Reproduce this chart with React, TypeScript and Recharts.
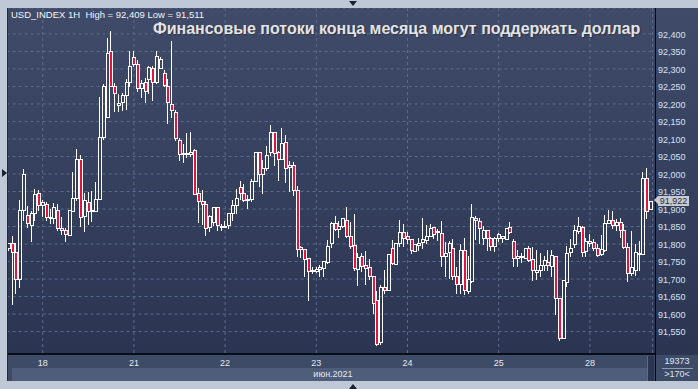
import React from "react";
import { ComposedChart, Bar, XAxis, YAxis, CartesianGrid } from "recharts";

// USD_INDEX 1H candles, prices in thousandths (91922 = 91,922)
const opens = [
  91790, 91804, 91777, 91699, 91896, 91883, 91855, 91889, 91946, 91912,
  91915, 91878, 91875, 91898, 91847, 91841, 91825, 91894, 91931, 92044,
  91881, 91920, 91895, 91895, 91929, 92107, 92164, 92352, 92250, 92196,
  92207, 92226, 92264, 92334, 92314, 92245, 92263, 92271, 92302, 92262,
  92304, 92289, 92251, 92200, 92177, 92098, 92060, 92060, 92058, 92069,
  91946, 91923, 91915, 91849, 91864, 91906, 91851, 91850, 91853, 91889,
  91912, 91963, 91946, 91929, 91929, 91979, 92063, 92001, 92017, 92063,
  92119, 92062, 92043, 92091, 92019, 92027, 91953, 91792, 91786, 91760,
  91727, 91723, 91729, 91732, 91749, 91804, 91859, 91843, 91851, 91870,
  91824, 91796, 91729, 91765, 91739, 91735, 91710, 91639, 91519, 91678,
  91670, 91789, 91744, 91802, 91835, 91822, 91813, 91780, 91798, 91806,
  91811, 91823, 91849, 91837, 91832, 91765, 91777, 91789, 91710, 91685,
  91784, 91666, 91694, 91875, 91867, 91818, 91839, 91816, 91794, 91818,
  91818, 91815, 91849, 91810, 91761, 91765, 91761, 91789, 91756, 91720,
  91725, 91739, 91750, 91737, 91765, 91647, 91533, 91691, 91777, 91799,
  91837, 91849, 91780, 91808, 91805, 91789, 91772, 91782, 91861, 91870,
  91853, 91863, 91841, 91792, 91716, 91727, 91771, 91771, 91989, 91900,
];
const highs = [
  91804, 91822, 91804, 91927, 92015, 91908, 91894, 91957, 91953, 91925,
  91919, 91901, 91918, 91915, 91876, 91845, 91898, 92006, 92072, 92055,
  91946, 91948, 91951, 91976, 92220, 92258, 92388, 92409, 92260, 92229,
  92231, 92272, 92352, 92350, 92326, 92269, 92274, 92307, 92307, 92350,
  92333, 92297, 92271, 92380, 92183, 92103, 92086, 92117, 92121, 92072,
  91960, 91953, 91924, 91884, 91906, 91906, 91856, 91867, 91890, 91927,
  91957, 91981, 91972, 91941, 91987, 92063, 92063, 92041, 92079, 92141,
  92119, 92067, 92131, 92112, 92036, 92033, 91967, 91794, 91786, 91760,
  91735, 91735, 91739, 91751, 91811, 91864, 91879, 91865, 91875, 91905,
  91862, 91887, 91773, 91775, 91780, 91756, 91710, 91666, 91682, 91725,
  91772, 91811, 91802, 91870, 91856, 91833, 91815, 91799, 91818, 91875,
  91853, 91856, 91849, 91843, 91867, 91805, 91808, 91813, 91735, 91799,
  91818, 91767, 91913, 91881, 91875, 91851, 91839, 91821, 91821, 91832,
  91824, 91845, 91862, 91815, 91784, 91775, 91789, 91794, 91792, 91784,
  91775, 91765, 91784, 91784, 91765, 91647, 91696, 91794, 91813, 91853,
  91878, 91851, 91818, 91830, 91813, 91799, 91826, 91884, 91898, 91894,
  91872, 91875, 91856, 91804, 91837, 91799, 91808, 92005, 92017, 91924,
];
const lows = [
  91784, 91630, 91661, 91677, 91870, 91848, 91808, 91868, 91896, 91879,
  91870, 91861, 91861, 91841, 91828, 91808, 91825, 91894, 91927, 91851,
  91837, 91858, 91865, 91895, 91929, 92100, 92164, 92250, 92179, 92179,
  92183, 92185, 92250, 92307, 92238, 92221, 92207, 92231, 92212, 92260,
  92302, 92250, 92146, 92164, 92098, 92041, 92033, 92049, 92050, 91943,
  91864, 91858, 91827, 91837, 91853, 91839, 91839, 91849, 91846, 91870,
  91889, 91929, 91922, 91903, 91922, 91979, 91965, 91946, 92012, 92055,
  92027, 91982, 92043, 91976, 91951, 91939, 91767, 91764, 91708, 91640,
  91716, 91719, 91708, 91710, 91747, 91792, 91841, 91821, 91849, 91821,
  91789, 91725, 91683, 91723, 91687, 91699, 91604, 91511, 91514, 91659,
  91670, 91742, 91744, 91794, 91794, 91802, 91775, 91780, 91782, 91789,
  91804, 91822, 91818, 91811, 91737, 91710, 91704, 91701, 91659, 91661,
  91656, 91661, 91691, 91813, 91802, 91801, 91782, 91784, 91780, 91808,
  91805, 91815, 91832, 91737, 91737, 91748, 91759, 91751, 91697, 91701,
  91708, 91727, 91727, 91708, 91599, 91526, 91531, 91680, 91767, 91792,
  91832, 91767, 91767, 91794, 91782, 91767, 91770, 91780, 91859, 91846,
  91841, 91821, 91789, 91694, 91713, 91713, 91727, 91771, 91875, 91900,
];
const closes = [
  91802, 91777, 91699, 91896, 92000, 91861, 91889, 91943, 91912, 91921,
  91878, 91877, 91905, 91845, 91841, 91829, 91898, 91932, 92044, 91878,
  91925, 91895, 91896, 91929, 92107, 92252, 92345, 92252, 92231, 92203,
  92226, 92262, 92307, 92314, 92245, 92261, 92236, 92305, 92262, 92338,
  92328, 92253, 92207, 92183, 92103, 92058, 92059, 92061, 92064, 91943,
  91922, 91915, 91846, 91881, 91906, 91853, 91849, 91852, 91889, 91912,
  91932, 91946, 91927, 91928, 91981, 92063, 92001, 92017, 92055, 92120,
  92060, 92043, 92089, 92017, 92027, 91953, 91786, 91786, 91758, 91723,
  91723, 91729, 91734, 91751, 91794, 91859, 91844, 91851, 91875, 91822,
  91794, 91732, 91763, 91737, 91732, 91710, 91633, 91514, 91678, 91670,
  91772, 91747, 91802, 91835, 91818, 91813, 91782, 91799, 91802, 91815,
  91823, 91847, 91830, 91834, 91765, 91775, 91804, 91708, 91685, 91784,
  91670, 91699, 91878, 91868, 91846, 91839, 91818, 91794, 91816, 91829,
  91824, 91845, 91835, 91761, 91767, 91763, 91789, 91754, 91725, 91727,
  91739, 91753, 91739, 91770, 91647, 91533, 91696, 91775, 91789, 91839,
  91851, 91777, 91808, 91802, 91789, 91770, 91787, 91861, 91870, 91853,
  91863, 91839, 91792, 91718, 91735, 91778, 91775, 91989, 91894, 91922,
];

const priceTicks = [
  91550, 91600, 91650, 91700, 91750, 91800, 91850, 91900, 91950,
  92000, 92050, 92100, 92150, 92200, 92250, 92300, 92350, 92400,
];
const dayTicks = [9, 33, 57, 81, 105, 129, 153];
const dayLabels = ["18", "21", "22", "23", "24", "25", "28"];

const data = opens.map((open, i) => ({
  i,
  open,
  high: highs[i],
  low: lows[i],
  close: closes[i],
  range: [lows[i], highs[i]],
}));

const RED = "#e3153c";
const FONT = "'Liberation Sans', Arial, sans-serif";
const FRAME = "#bec8d6";

function fmtPrice(v: number) {
  return (v / 1000).toFixed(3).replace(".", ",");
}

function Candle(props: any) {
  const { x, y, width, height, payload } = props;
  if (x == null || !payload) return null;
  const { open, close, high, low } = payload;
  const cx = Math.floor(x + width / 2);
  const top = Math.min(y, y + height);
  const h = Math.abs(height);
  const toY = (v: number) => top + ((high - v) / (high - low)) * h;
  const yH = Math.round(top);
  const yL = Math.round(top + h);
  const bTop = Math.round(toY(Math.max(open, close)));
  let bBot = Math.round(toY(Math.min(open, close)));
  if (bBot - bTop < 1) bBot = bTop + 1;
  const up = close >= open;
  return (
    <g shapeRendering="crispEdges">
      {bTop > yH && (
        <line x1={cx + 0.5} x2={cx + 0.5} y1={yH} y2={bTop} stroke="#ffffff" />
      )}
      {yL > bBot && (
        <line x1={cx + 0.5} x2={cx + 0.5} y1={bBot + 1} y2={yL + 1} stroke="#ffffff" />
      )}
      <rect
        x={cx - 0.5}
        y={bTop + 0.5}
        width={3}
        height={bBot - bTop}
        fill={up ? "none" : RED}
        stroke="#ffffff"
      />
    </g>
  );
}

function PriceTick(props: any) {
  const { y, payload } = props;
  return (
    <text x={658} y={y + 3.6} fill="#d6e2f4" fontSize={9} fontFamily={FONT}>
      {fmtPrice(payload.value)}
    </text>
  );
}

function DayTick(props: any) {
  const { x, payload } = props;
  const k = dayTicks.indexOf(payload.value);
  return (
    <text x={x} y={366} fill="#e4e9f1" fontSize={9} fontFamily={FONT} textAnchor="middle">
      {k >= 0 ? dayLabels[k] : ""}
    </text>
  );
}

const abs = (l: number, t: number, w: number, h: number, extra: React.CSSProperties = {}): React.CSSProperties => ({
  position: "absolute",
  left: l,
  top: t,
  width: w,
  height: h,
  ...extra,
});

export default function App() {
  return (
    <div
      style={{
        position: "fixed",
        left: 0,
        top: 0,
        width: 698,
        height: 389,
        background: FRAME,
        overflow: "hidden",
        fontFamily: FONT,
      }}
    >
      {/* panels */}
      <div style={abs(8, 8, 690, 347, { background: "linear-gradient(to bottom, #3f4b69, #2b3552)" })} />
      <div style={abs(8, 355, 690, 26, { background: "#3e4b67" })} />
      <div style={abs(12, 368, 635, 13, { background: "#4e5e7a" })} />
      <div style={abs(647, 356, 7, 25, { background: "#2b354f", borderLeft: "1px solid #5d6c86", boxSizing: "border-box" })} />

      <div style={{ position: "absolute", left: 0, top: 0, zIndex: 1 }}>
        <ComposedChart
          width={698}
          height={389}
          data={data}
          margin={{ top: 8, right: 0, bottom: 15, left: 6.6 }}
        >
          <CartesianGrid stroke="#5a6b8e" strokeDasharray="3 3" />
          <XAxis
            dataKey="i"
            type="category"
            ticks={dayTicks}
            interval={0}
            height={20}
            axisLine={false}
            tickLine={false}
            tick={<DayTick />}
          />
          <YAxis
            orientation="right"
            width={45.4}
            domain={[91486, 92474]}
            ticks={priceTicks}
            interval={0}
            allowDataOverflow
            axisLine={false}
            tickLine={false}
            tick={<PriceTick />}
          />
          <Bar dataKey="range" barSize={4} shape={<Candle />} isAnimationActive={false} />
        </ComposedChart>
      </div>

      {/* chrome on top */}
      <div style={{ position: "absolute", inset: 0, zIndex: 2, pointerEvents: "none" }}>
        <div style={abs(0, 0, 8, 389, { background: FRAME })} />
        <div style={abs(0, 0, 698, 8, { background: FRAME })} />
        <div style={abs(0, 381, 698, 8, { background: FRAME })} />
        <div style={abs(7, 8, 1, 373, { background: "#222a3b" })} />
        <div style={abs(8, 353, 647, 2, { background: "#0a0e18" })} />
        <div style={abs(655, 8, 1, 373, { background: "#05070c" })} />

        {/* frame markers */}
        <div style={abs(2, 169, 0, 0, { borderTop: "4px solid transparent", borderBottom: "4px solid transparent", borderLeft: "5px solid #1b2130" })} />
        <div style={abs(349, 1, 0, 0, { borderLeft: "4px solid transparent", borderRight: "4px solid transparent", borderTop: "5px solid #1b2130" })} />
        <div style={abs(349, 384, 0, 0, { borderLeft: "4px solid transparent", borderRight: "4px solid transparent", borderBottom: "5px solid #1b2130" })} />

        <div style={abs(11, 10, 300, 10, { color: "#f2f4f8", fontSize: 9.5, lineHeight: "10px", whiteSpace: "pre" })}>
          USD_INDEX 1H  High = 92,409 Low = 91,511
        </div>
        <div
          style={abs(153, 20.8, 520, 16, {
            color: "#e4e4e4",
            fontSize: 16,
            fontWeight: "bold",
            lineHeight: "16px",
            whiteSpace: "nowrap",
            textShadow: "1px 1px 1px rgba(0,0,0,0.35)",
          })}
        >
          Финансовые потоки конца месяца могут поддержать доллар
        </div>

        {/* current price */}
        <div style={abs(654, 196, 0, 0, { borderTop: "4.5px solid transparent", borderBottom: "4.5px solid transparent", borderRight: "4px solid #c6cbd3" })} />
        <div
          style={abs(658, 196, 31, 10, {
            background: "#c6cbd3",
            color: "#262c3a",
            fontSize: 9,
            lineHeight: "10px",
            textAlign: "center",
          })}
        >
          91,922
        </div>

        <div style={abs(290, 369, 86, 11, { color: "#e0e6ef", fontSize: 9, lineHeight: "11px", textAlign: "center" })}>
          июн.2021
        </div>
        <div style={abs(656, 356, 42, 11, { color: "#dde5f0", fontSize: 9, lineHeight: "11px", textAlign: "center" })}>
          19373
        </div>
        <div style={abs(662, 368, 31, 1, { background: "#8e9ab0" })} />
        <div style={abs(656, 369, 42, 11, { color: "#dde5f0", fontSize: 9, lineHeight: "11px", textAlign: "center" })}>
          &gt;170&lt;
        </div>
      </div>
    </div>
  );
}
